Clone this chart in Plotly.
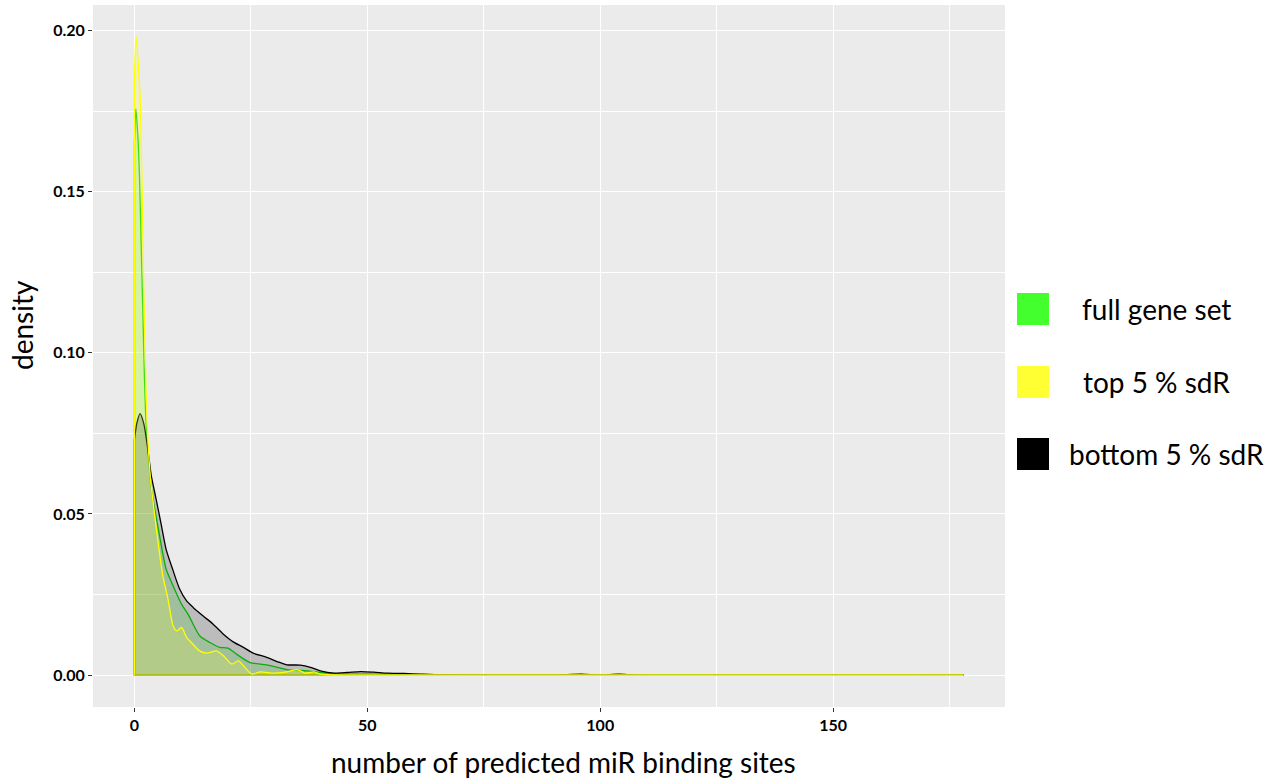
import plotly.graph_objects as go

# Density estimates of predicted miR binding sites per gene
full_x = [0, 0.3, 0.7, 1.1, 1.45, 1.8, 2.15, 2.5, 3.1, 3.6, 4.3, 5.4, 6.8, 8.3, 10.1, 11.5,
          14.0, 16.2, 18.3, 20.1, 21.9, 24.8, 28.4, 32.7, 37.0, 39.9, 43.5, 50, 60, 70, 178]
full_y = [0.165, 0.1757, 0.168, 0.154, 0.133, 0.113, 0.092, 0.078, 0.066, 0.058, 0.052, 0.0432,
          0.0329, 0.0277, 0.0220, 0.0189, 0.0122, 0.0101, 0.0086, 0.0084, 0.0065, 0.0039, 0.0032,
          0.0017, 0.0013, 0.0008, 0.0004, 0.0003, 0.0001, 0.00003, 0]

top_x = [0, 0.35, 0.8, 1.2, 1.6, 2.0, 2.5, 3.0, 3.5, 3.93, 5.0, 6.1, 7.2, 8.3, 9.1, 10.1, 11.2,
         12.2, 14.0, 15.5, 17.6, 19.1, 20.9, 22.3, 23.7, 25.2, 27.0, 29.9, 32.7, 34.9, 36.7,
         38.5, 39.9, 41.4, 45, 178]
top_y = [0.186, 0.198, 0.19, 0.18, 0.154, 0.12, 0.088, 0.07, 0.06, 0.0546, 0.042, 0.0308, 0.0236,
         0.0153, 0.0137, 0.0148, 0.0117, 0.0101, 0.0075, 0.0068, 0.0075, 0.006, 0.0034, 0.0044,
         0.0024, 0.0003, 0.001, 0.0006, 0.001, 0.0017, 0.0006, 0.001, 0.0003, 0.0001, 0, 0]

bottom_x = [0, 0.5, 1.2, 2.0, 2.9, 3.6, 4.65, 5.8, 6.8, 8.3, 9.7, 11.2, 12.6, 14.7, 16.9, 19.1,
            21.2, 23.4, 25.5, 28.4, 30.6, 32.7, 35.6, 37.8, 39.9, 42.8, 45.7, 48.6, 51.4, 54.3,
            57.9, 61.5, 66, 75, 90, 96, 100, 104, 108, 178]
bottom_y = [0.073, 0.078, 0.0811, 0.078, 0.0697, 0.062, 0.0546, 0.0463, 0.039, 0.0324, 0.0267,
            0.023, 0.021, 0.0184, 0.0158, 0.0127, 0.0103, 0.0086, 0.0068, 0.0055, 0.0042, 0.0032,
            0.0031, 0.0024, 0.0013, 0.0006, 0.0008, 0.0011, 0.0009, 0.0006, 0.0005, 0.0003,
            0.0001, 0.00003, 0, 0.0003, 0, 0.0003, 0, 0]

series = [
    # name, x, y, outline colour, fill colour, legend key colour
    ("full gene set", full_x, full_y, "#10d810", "rgba(68,255,51,0.2)", "#44ff2e"),
    ("bottom 5 % sdR", bottom_x, bottom_y, "#000000", "rgba(0,0,0,0.2)", "#000000"),
    ("top 5 % sdR", top_x, top_y, "#ffff00", "rgba(255,255,51,0.2)", "#ffff33"),
]
legend_order = ["full gene set", "top 5 % sdR", "bottom 5 % sdR"]

W, H = 1271, 780
L, R, T, B = 93, 266, 5, 73

fig = go.Figure()
for name, xs, ys, lc, fc, _ in series:
    fig.add_trace(go.Scatter(
        x=xs, y=ys, mode="lines", fill="tozeroy", fillcolor=fc,
        line=dict(color=lc, width=1.3, shape="spline", smoothing=0.7),
        showlegend=False, hoverinfo="skip"))
    # closing edges of the density polygon (left edge and baseline)
    fig.add_trace(go.Scatter(
        x=[xs[0], xs[0], xs[-1]], y=[ys[0], 0, 0], mode="lines",
        line=dict(color=lc, width=1.3), showlegend=False, hoverinfo="skip"))

# helpers to convert page pixels into paper coordinates
def px_x(p):
    return (p - L) / (W - L - R)

def px_y(p):
    return (H - B - p) / (H - T - B)

key_tops = [293, 366, 438]
text_centres = [1156, 1156, 1166]
colours = {s[0]: s[5] for s in series}
for name, top, tc in zip(legend_order, key_tops, text_centres):
    fig.add_shape(type="rect", xref="paper", yref="paper",
                  x0=px_x(1017), x1=px_x(1049), y0=px_y(top + 32), y1=px_y(top),
                  fillcolor=colours[name], line=dict(width=0))
    fig.add_annotation(text=name, xref="paper", yref="paper", x=px_x(tc), y=px_y(top + 16),
                       xanchor="center", yanchor="middle", showarrow=False,
                       font=dict(family="Lato", size=28, color="black"))

fig.add_annotation(text="number of predicted miR binding sites", xref="paper", yref="paper",
                   x=px_x(563), y=px_y(762), xanchor="center", yanchor="middle",
                   showarrow=False, font=dict(family="Lato", size=28, color="black"))
fig.add_annotation(text="density", xref="paper", yref="paper", textangle=-90,
                   x=px_x(22), y=px_y(325), xanchor="center", yanchor="middle",
                   showarrow=False, font=dict(family="Lato", size=28, color="black"))

tickfont = dict(family="Lato", size=16, color="black", weight="bold")
fig.update_layout(
    width=W, height=H,
    margin=dict(l=L, r=R, t=T, b=B, pad=0),
    paper_bgcolor="white", plot_bgcolor="#ebebeb",
    xaxis=dict(range=[-8.9, 186.9], tickmode="array", tickvals=[0, 50, 100, 150],
               ticktext=["0", "50", "100", "150"], showgrid=True, gridcolor="white",
               gridwidth=1.1, zeroline=False, ticks="outside", ticklen=4,
               tickcolor="#333333", tickwidth=1, tickfont=tickfont, showline=False,
               minor=dict(tickvals=[25, 75, 125, 175], showgrid=True, gridcolor="white",
                          gridwidth=0.5, ticks="")),
    yaxis=dict(range=[-0.0099, 0.2079], tickmode="array",
               tickvals=[0, 0.05, 0.10, 0.15, 0.20],
               ticktext=["0.00", "0.05", "0.10", "0.15", "0.20"], showgrid=True,
               gridcolor="white", gridwidth=1.1, zeroline=False, ticks="outside",
               ticklen=4, tickcolor="#333333", tickwidth=1, tickfont=tickfont,
               showline=False,
               minor=dict(tickvals=[0.025, 0.075, 0.125, 0.175], showgrid=True,
                          gridcolor="white", gridwidth=0.5, ticks="")),
)

fig.write_html("out.html")
